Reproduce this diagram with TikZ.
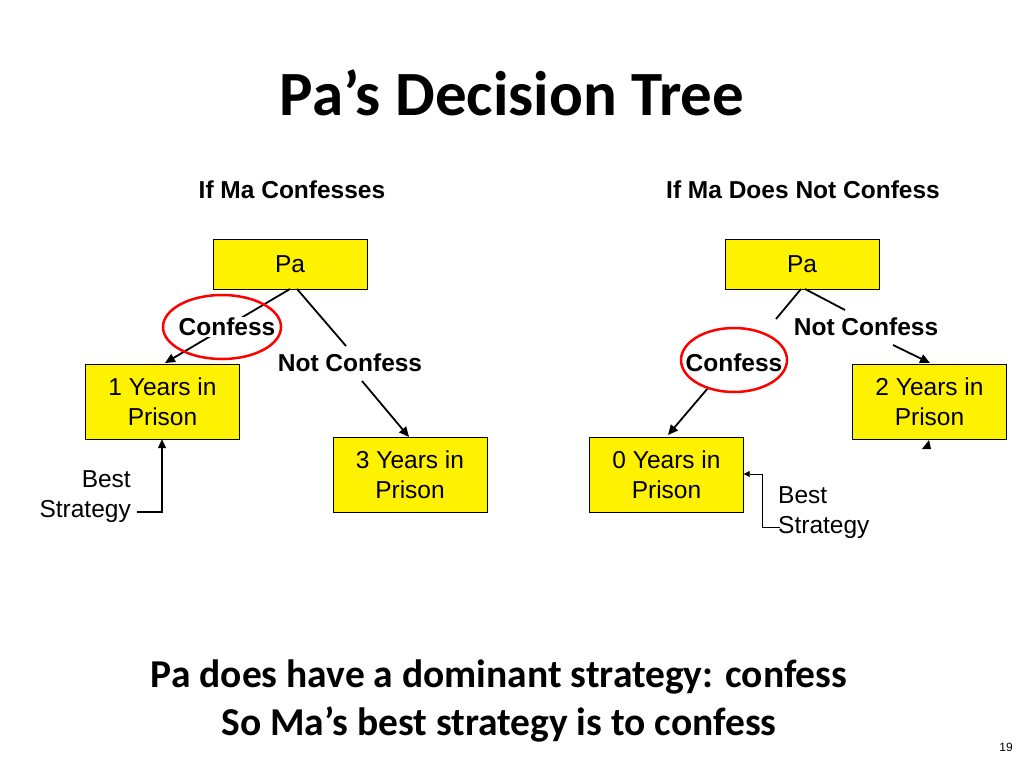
\documentclass[tikz,border=0pt]{standalone}
\usepackage{fontspec}
\setmainfont{Liberation Sans}
\newfontfamily\calib{Carlito}
\usetikzlibrary{arrows.meta}
\begin{document}
\begin{tikzpicture}[x=1pt,y=-1pt,
  box/.style={draw=black,fill=yellow,minimum width=154pt,minimum height=50pt,inner sep=0pt,font=\fontsize{24.5}{30}\selectfont,align=center},
  boxt/.style={box,minimum height=75pt},
  lab/.style={font=\fontsize{24.5}{30}\selectfont\bfseries,inner sep=1pt,fill=white},
  txt/.style={font=\fontsize{24.5}{30}\selectfont,inner sep=1pt},
  arr/.style={line width=1.8pt,-{Triangle[length=10pt,width=9pt]}},
  ln/.style={line width=1.8pt}]
\useasboundingbox (0,0) rectangle (1024,768);
\node[font=\calib\fontsize{63}{66}\selectfont\bfseries] (title) at (512,93) {Pa’s Decision Tree};
\node[lab] (h1) at (292,190) {If Ma Confesses};
\node[lab] (h2) at (803,190) {If Ma Does Not Confess};
\node[box] (pa1) at (290,264.5) {Pa};
\node[box] (pa2) at (802,264.5) {Pa};
\node[boxt] (b1) at (162.5,401.5) {1 Years in\\Prison};
\node[boxt] (b3) at (410,474.5) {3 Years in\\Prison};
\node[boxt] (b0) at (666.5,474.5) {0 Years in\\Prison};
\node[boxt] (b2) at (929.5,401.5) {2 Years in\\Prison};
% left tree
\draw[arr] (290,289) -- (165,363);
\draw[ln] (297,289) -- (346,346);
\draw[arr] (362,381) -- (409,437);
\node[lab] (c1) at (227,327) {Confess};
\node[lab] (n1) at (350,363) {Not Confess};
\draw[red,line width=2.5pt] (222,327) ellipse (59pt and 32pt);
% right tree
\draw[ln] (801,289) -- (776,319);
\draw[arr] (708,388) -- (668,435);
\draw[ln] (805,289) -- (845,310);
\draw[arr] (893,345) -- (930,363);
\node[lab] (c2) at (734,363) {Confess};
\node[lab] (n2) at (866,327) {Not Confess};
\draw[red,line width=2.5pt] (734,360) ellipse (53pt and 32pt);
\fill (922,449) -- (931,449) -- (929,440) -- cycle;
% best strategy
\node[txt,align=right,anchor=east] (bs1) at (132,497) {Best\\Strategy};
\coordinate (k1) at (162,512);
\draw[line width=1.3pt,-{Triangle[length=9pt,width=8pt]}] (137,512) -- (k1) -- (b1.south -| k1);
\node[txt,align=left,anchor=west] (bs2) at (777,513) {Best\\Strategy};
\coordinate (k2) at (762,527);
\coordinate (k3) at (762,474);
\draw[line width=0.8pt,-{Triangle[length=6pt,width=6pt]}] (780,527) -- (k2) -- (k3) -- (b0.east |- k3);
\node[font=\calib\fontsize{39.5}{48}\selectfont\bfseries,align=center] (concl) at (499,701) {Pa does have a dominant strategy: confess\\So Ma’s best strategy is to confess};
\node[font=\fontsize{12}{14}\selectfont] (pg) at (1006,747) {19};
\end{tikzpicture}
\end{document}
